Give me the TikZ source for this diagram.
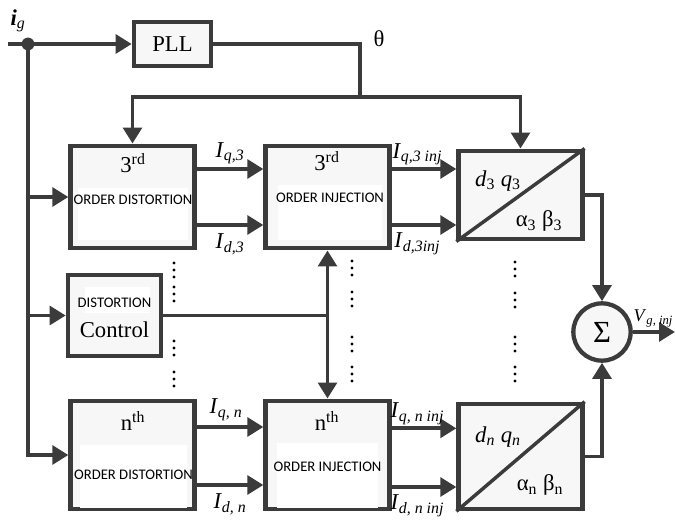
\documentclass[tikz,border=0pt]{standalone}
\usepackage{fontspec}
\setmainfont{Liberation Serif}
\newfontfamily\calib{Carlito}
\usetikzlibrary{arrows.meta,positioning,shadows}
\definecolor{lineg}{HTML}{3B3B3B}
\newcommand{\Icur}[1]{\textit{I}\textsubscript{\textit{#1}}}
\tikzset{blk/.style={draw=lineg,line width=3.2pt,fill=gray!6,inner sep=0pt,drop shadow={shadow xshift=1.2pt,shadow yshift=-1.2pt,opacity=.25}}}
\tikzset{ptch/.style={fill=white,inner sep=0pt}}
\tikzset{capt/.style={font=\calib\fontsize{11}{13}\selectfont,inner sep=0pt}}
\tikzset{wire/.style={draw=lineg,line width=2.9pt}}
\tikzset{arw/.tip={Triangle[length=12pt,width=14pt]}}
\tikzset{sig/.style={wire,-arw}}

\begin{document}
\begin{tikzpicture}[x=0.75pt,y=-0.75pt,font=\fontsize{17}{20}\selectfont]
        \useasboundingbox (0,0) rectangle (675,527);

        % blocks
        \node[blk,minimum width=58pt,minimum height=33.5pt] (pll) at (172.5,44) {PLL};
        \node[blk,minimum width=93pt,minimum height=77pt] (d3) at (132.5,197) {};
        \node[blk,minimum width=93pt,minimum height=77pt] (j3) at (327.5,197) {};
        \node[blk,minimum width=70pt,minimum height=61pt] (ctl) at (114.5,315.5) {};
        \node[blk,minimum width=93pt,minimum height=81.5pt] (dn) at (132.5,455) {};
        \node[blk,minimum width=93pt,minimum height=81.5pt] (jn) at (327.5,455) {};
        \node[blk,minimum width=93pt,minimum height=66.5pt] (t3) at (520.5,195) {};
        \node[blk,minimum width=93pt,minimum height=79pt] (tn) at (520.5,456.5) {};
        \node[blk,circle,minimum size=43pt] (sum) at (602,332) {\fontsize{23}{25}\selectfont Σ};

        % texts in the blocks
        \node[ptch,minimum width=82pt,minimum height=39pt,label={[capt,anchor=north,yshift=-5pt]north:ORDER DISTORTION}] (d3p) at (133,214) {};
        \node (d3o) at (133,163) {3\textsuperscript{rd}};
        \node[ptch,minimum width=78pt,minimum height=41pt,label={[capt,anchor=north,yshift=-6pt]north:ORDER INJECTION}] (j3p) at (330,212.5) {};
        \node (j3o) at (327,161) {3\textsuperscript{rd}};
        \node[ptch,minimum width=49pt,minimum height=19pt] (ctlp) at (117.5,300) {};
        \node[capt] (ctla) at (114.5,303) {DISTORTION};
        \node (ctlb) at (114.5,330) {Control};
        \node[ptch,minimum width=80pt,minimum height=47pt] (dnp) at (133.5,476.5) {};
        \node[capt] (dno) at (133.5,475) {ORDER DISTORTION};
        \node (dnt) at (133,421) {n\textsuperscript{th}};
        \node[ptch,minimum width=76pt,minimum height=49pt] (jnp) at (327.5,475.5) {};
        \node[capt] (jno) at (327.5,467) {ORDER INJECTION};
        \node (jnt) at (327,421) {n\textsuperscript{th}};

        % frame changers
        \draw[lineg,line width=2.6pt] (t3.south west) -- (t3.north east);
        \draw[lineg,line width=2.6pt] (tn.south west) -- (tn.north east);
        \node (t3a) at (498,181) {\textit{d}\textsubscript{3} \textit{q}\textsubscript{3}};
        \node (t3b) at (539,221) {α\textsubscript{3} β\textsubscript{3}};
        \node (tna) at (498,437) {\textit{d}\textsubscript{\textit{n}} \textit{q}\textsubscript{\textit{n}}};
        \node (tnb) at (540,485) {α\textsubscript{n} β\textsubscript{n}};

        % input and PLL
        \coordinate (in) at (8,44);
        \coordinate (tap) at (28,44);
        \coordinate (th) at (360,97);
        \coordinate (out) at (675,332);
        \node (ig) at (18,21) {\textbf{\textit{i}}\textsubscript{\textit{g}}};
        \node (thl) at (379,39) {θ};
        \draw[sig] (in) -- (pll.west);
        \fill[lineg] (tap) circle[radius=4.8pt];
        \draw[wire] (pll.east) -| (th);
        \draw[sig] (th) -| (d3.north);
        \draw[sig] (th) -| (t3.north);
        \draw[sig] (tap) |- (dn.west);
        \draw[sig] (tap |- d3.west) -- (d3.west);
        \draw[sig] (tap |- ctl.west) -- (ctl.west);

        % 3rd order signals
        \coordinate (q3i) at ([yshift=21pt]d3.east);
        \coordinate (d3i) at ([yshift=-21pt]d3.east);
        \coordinate (q3o) at ([yshift=21pt]j3.east);
        \coordinate (d3x) at ([yshift=-21pt]j3.east);
        \draw[sig] (q3i) -- (q3i -| j3.west) node[midway,above,yshift=-1pt] {\Icur{q,3}};
        \draw[sig] (d3i) -- (d3i -| j3.west) node[midway,below,yshift=-2pt] {\Icur{d,3}};
        \draw[sig] (q3o) -- (q3o -| t3.west) node[midway,above,xshift=-5pt,yshift=-2pt] {\Icur{q,3 inj}};
        \draw[sig] (d3x) -- (d3x -| t3.west) node[midway,below,xshift=-5pt,yshift=-1pt] {\Icur{d,3inj}};

        % nth order signals
        \coordinate (qni) at ([yshift=21pt]dn.east);
        \coordinate (dni) at ([yshift=-22.5pt]dn.east);
        \coordinate (qno) at ([yshift=20pt]jn.east);
        \coordinate (dno) at ([yshift=-24pt]jn.east);
        \draw[sig] (qni) -- (qni -| jn.west) node[midway,above,xshift=-3pt] {\Icur{q, n}};
        \draw[sig] (dni) -- (dni -| jn.west) node[midway,below,yshift=-2pt] {\Icur{d, n}};
        \draw[sig] (qno) -- (qno -| tn.west) node[midway,above,xshift=-5pt,yshift=-2pt] {\Icur{q, n inj}};
        \draw[sig] (dno) -- (dno -| tn.west) node[midway,below,xshift=-5pt,yshift=-1pt] {\Icur{d, n inj}};

        % control and sum
        \draw[wire,arw-arw] (j3.south) -- (jn.north);
        \draw[wire] (ctl.east) -- (ctl.east -| j3.south);
        \draw[sig] (t3.east) -| (sum.north);
        \draw[sig] (tn.east) -| (sum.south);
        \draw[sig] (sum.east) -- (out);
        \node[anchor=south west,inner sep=0.5pt,font=\fontsize{13.5}{15}\selectfont] (vout) at ([xshift=0pt,yshift=3pt]sum.east) {\textit{V}\textsubscript{\textit{g, inj}}};

        % dots
        \foreach \dx/\dy in {174/263,174/287,174/341,174/372,352/261,352/292,352/337,352/367,515/262,515/293,515/337,515/367}
            \foreach \k in {0,7,14}
                \fill (\dx,\dy+\k) circle[radius=1.3pt];
    \end{tikzpicture}
\end{document}
